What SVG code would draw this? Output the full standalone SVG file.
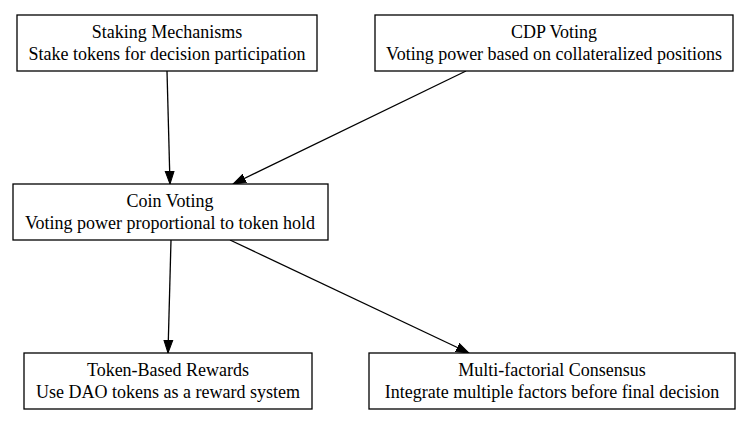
<svg xmlns="http://www.w3.org/2000/svg" width="751" height="425" viewBox="0 0 751 425">
<style>
.box{fill:#fff;stroke:#000;stroke-width:1.3}
text{font-family:"Liberation Serif","Times New Roman",serif;font-size:18px;fill:#000;text-anchor:middle}
.edge{stroke:#000;stroke-width:1.3;fill:none;marker-end:url(#ah)}
</style>
<defs>
<marker id="ah" markerUnits="userSpaceOnUse" markerWidth="14" markerHeight="12" refX="13" refY="5" orient="auto" viewBox="0 0 14 10">
<path d="M0,0.5 L13,5 L0,9.5 Z" fill="#000" stroke="#000" stroke-width="1"/>
</marker>
</defs>
<rect width="751" height="425" fill="#fff"/>
<g id="connectors">
<line class="edge" x1="167" y1="71" x2="170" y2="184"/>
<line class="edge" x1="466" y1="71" x2="233" y2="184"/>
<line class="edge" x1="171" y1="240" x2="168" y2="353"/>
<line class="edge" x1="230" y1="240" x2="469" y2="353"/>
</g>
<g id="staking">
<rect class="box" x="17" y="15" width="300" height="56"/>
<text x="167" y="38">Staking Mechanisms</text>
<text x="167" y="60">Stake tokens for decision participation</text>
</g>
<g id="cdp">
<rect class="box" x="375" y="15" width="358" height="56"/>
<text x="554" y="38">CDP Voting</text>
<text x="554" y="60">Voting power based on collateralized positions</text>
</g>
<g id="coin">
<rect class="box" x="13" y="184" width="315" height="56"/>
<text x="170" y="207">Coin Voting</text>
<text x="170" y="229">Voting power proportional to token hold</text>
</g>
<g id="token">
<rect class="box" x="24" y="353" width="288" height="56"/>
<text x="168" y="376">Token-Based Rewards</text>
<text x="168" y="398">Use DAO tokens as a reward system</text>
</g>
<g id="multi">
<rect class="box" x="369" y="353" width="366" height="56"/>
<text x="552" y="376">Multi-factorial Consensus</text>
<text x="552" y="398">Integrate multiple factors before final decision</text>
</g>
</svg>
